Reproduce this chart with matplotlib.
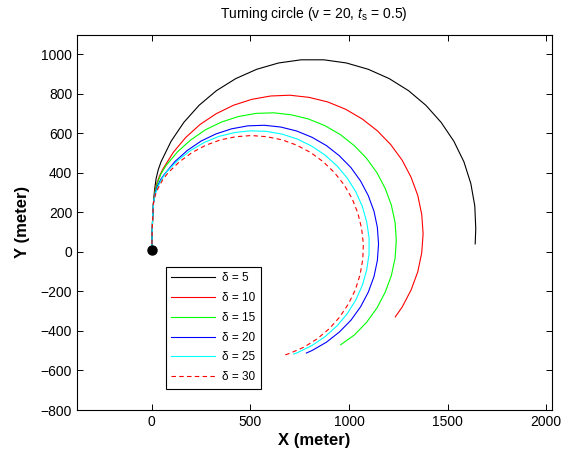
import matplotlib
matplotlib.use("Agg")
import matplotlib.pyplot as plt

plt.rcParams['font.family'] = ['Liberation Sans', 'DejaVu Sans']
plt.rcParams['mathtext.fontset'] = 'custom'
plt.rcParams['mathtext.rm'] = 'Liberation Sans'
plt.rcParams['mathtext.it'] = 'Liberation Sans:italic'

# trajectories (meters)
d5_x = [0, 2, 5, 9, 14, 22, 33, 47, 98, 163, 240, 328, 426, 532, 643, 757, 873, 987, 1098, 1204, 1302,
        1390, 1467, 1532, 1583, 1618, 1638, 1643, 1640]
d5_y = [0, 100, 180, 250, 310, 370, 415, 455, 559, 655, 741, 815, 876, 923, 955, 971, 971, 955, 923, 876,
        815, 741, 655, 559, 455, 345, 232, 116, 40]

d10_x = [0, 2, 5, 9, 15, 25, 40, 58, 110, 172, 245, 326, 414, 507, 603, 700, 798, 892, 983, 1067, 1144,
         1212, 1270, 1315, 1349, 1369, 1376, 1369, 1349, 1315, 1270, 1235]
d10_y = [0, 100, 180, 250, 300, 345, 385, 421, 504, 578, 644, 698, 741, 771, 788, 792, 781, 758, 721, 672,
         612, 542, 463, 377, 285, 189, 92, -5, -101, -193, -279, -329]

d15_x = [0, 2, 5, 9, 16, 28, 47, 73, 131, 198, 272, 353, 439, 528, 618, 707, 794, 878, 956, 1027, 1089,
         1142, 1184, 1215, 1234, 1240, 1234, 1215, 1184, 1142, 1089, 1027, 958]
d15_y = [0, 100, 180, 250, 300, 345, 395, 437, 506, 566, 617, 656, 684, 700, 703, 693, 672, 638, 593, 537,
         473, 400, 320, 236, 148, 58, -32, -120, -204, -284, -357, -421, -470]

d20_x = [0, 2, 5, 9, 17, 30, 47, 65, 118, 181, 250, 325, 405, 487, 571, 654, 735, 813, 886, 951, 1010,
         1059, 1098, 1127, 1144, 1150, 1144, 1127, 1098, 1059, 1010, 951, 886, 813, 784]
d20_y = [0, 100, 180, 250, 295, 335, 368, 393, 457, 513, 560, 596, 622, 637, 640, 631, 611, 579, 537, 486,
         426, 358, 284, 205, 124, 40, -44, -125, -204, -278, -346, -406, -457, -499, -512]

d25_x = [0, 2, 5, 9, 18, 32, 52, 75, 132, 196, 266, 341, 420, 501, 582, 662, 739, 812, 879, 940, 992,
         1035, 1068, 1090, 1102, 1102, 1090, 1068, 1035, 992, 940, 879, 812, 739, 720]
d25_y = [0, 100, 180, 250, 292, 330, 370, 404, 462, 512, 553, 584, 603, 612, 609, 595, 570, 534, 489, 434,
         372, 303, 229, 151, 71, -11, -91, -169, -243, -312, -374, -429, -474, -510, -517]

d30_x = [0, 2, 5, 9, 19, 34, 56, 83, 140, 204, 274, 348, 426, 505, 584, 662, 736, 806, 870, 927, 976,
         1016, 1045, 1064, 1073, 1070, 1056, 1032, 997, 953, 900, 839, 772, 699, 671]
d30_y = [0, 100, 180, 250, 290, 325, 365, 400, 455, 502, 539, 566, 582, 588, 582, 566, 539, 502, 455, 400,
         338, 269, 196, 119, 40, -39, -117, -193, -264, -330, -389, -440, -482, -514, -523]

start_x = [0]
start_y = [8]

labels = ['δ = 5', 'δ = 10', 'δ = 15', 'δ = 20', 'δ = 25', 'δ = 30']

fig = plt.figure(figsize=(5.7, 4.54), dpi=100)
ax = fig.add_axes([77 / 570, 44 / 454, 474.5 / 570, 375.3 / 454])

lw = 0.8
ax.plot(d5_x, d5_y, color='k', lw=lw, label=labels[0])
ax.plot(d10_x, d10_y, color='#ff0000', lw=lw, label=labels[1])
ax.plot(d15_x, d15_y, color='#00ff00', lw=lw, label=labels[2])
ax.plot(d20_x, d20_y, color='#0000ff', lw=lw, label=labels[3])
ax.plot(d25_x, d25_y, color='#00ffff', lw=lw, label=labels[4])
ax.plot(d30_x, d30_y, color='#ff0000', lw=lw, ls=(0, (4, 3)), label=labels[5])
ax.plot(start_x, start_y, 'o', color='k', ms=6.5)

ax.set_xlim(-379, 2027)
ax.set_ylim(-800, 1098)
ax.set_xticks([0, 500, 1000, 1500, 2000])
ax.set_yticks(range(-800, 1001, 200))
ax.tick_params(direction='in', top=True, right=True, length=4, width=0.7, labelsize=10)
for s in ax.spines.values():
    s.set_linewidth(0.8)

ax.set_xlabel('X (meter)', fontsize=12, fontweight='bold', labelpad=3)
ax.set_ylabel('Y (meter)', fontsize=12, fontweight='bold', labelpad=8)
ax.set_title('Turning circle (v = 20, $t_{\\mathrm{s}}$ = 0.5)', fontsize=10, pad=12)

leg = ax.legend(loc='upper left', bbox_to_anchor=(0.1876, 0.381), borderaxespad=0,
                fontsize=8.5, handlelength=3.7, handletextpad=0.6, borderpad=0.45,
                labelspacing=0.66, fancybox=False, framealpha=1)
leg.get_frame().set_edgecolor('k')
leg.get_frame().set_linewidth(0.8)

fig.savefig('out.png', dpi=100)
